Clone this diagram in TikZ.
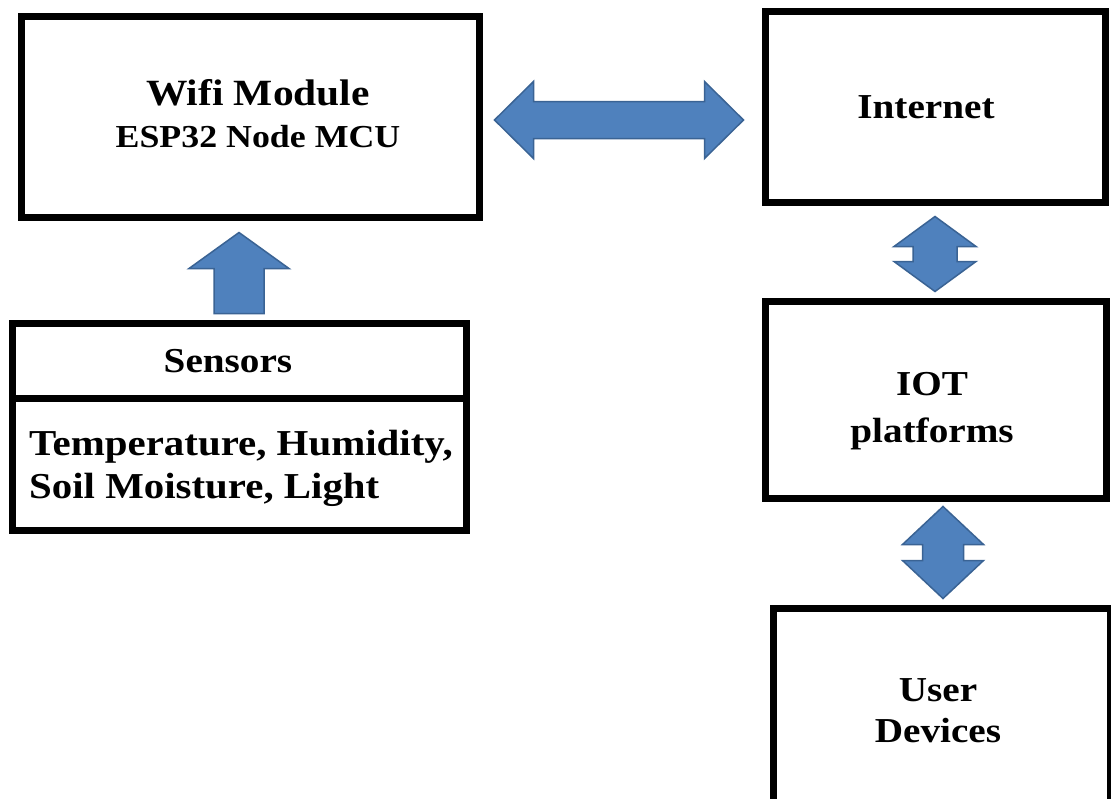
\documentclass[tikz,border=0pt]{standalone}
\usepackage{fontspec}
\setmainfont{Liberation Serif}[FakeStretch=1.12]
\usetikzlibrary{calc}
\definecolor{arrfill}{HTML}{4F81BD}
\definecolor{arrline}{HTML}{3A6394}
\tikzset{
  box/.style={draw=black, line width=7pt, rectangle, inner sep=0pt},
  txt/.style={inner sep=0pt, align=center, font=\bfseries\fontsize{35}{42}\selectfont},
  blk/.style={fill=arrfill, draw=arrline, line width=1.5pt, line join=miter},
  hdbl/.style n args={3}{to path={let \p1=(\tikztostart), \p2=(\tikztotarget) in
    (\x1,\y1) -- (\x1+#1,\y1+#2) -- (\x1+#1,\y1+#3) -- (\x2-#1,\y1+#3) -- (\x2-#1,\y1+#2)
    -- (\x2,\y1) -- (\x2-#1,\y1-#2) -- (\x2-#1,\y1-#3) -- (\x1+#1,\y1-#3) -- (\x1+#1,\y1-#2) -- cycle}},
  vdbl/.style n args={3}{to path={let \p1=(\tikztostart), \p2=(\tikztotarget) in
    (\x1,\y1) -- (\x1+#2,\y1-#1) -- (\x1+#3,\y1-#1) -- (\x1+#3,\y2+#1) -- (\x1+#2,\y2+#1)
    -- (\x1,\y2) -- (\x1-#2,\y2+#1) -- (\x1-#3,\y2+#1) -- (\x1-#3,\y1-#1) -- (\x1-#2,\y1-#1) -- cycle}},
  uparr/.style n args={3}{to path={let \p1=(\tikztostart), \p2=(\tikztotarget) in
    (\x1-#3,\y1) -- (\x1-#3,\y2-#1) -- (\x1-#2,\y2-#1) -- (\x1,\y2) -- (\x1+#2,\y2-#1)
    -- (\x1+#3,\y2-#1) -- (\x1+#3,\y1) -- cycle}}
}
\begin{document}
\begin{tikzpicture}[x=1pt,y=-1pt]
\useasboundingbox (0,0) rectangle (1111,798);
\fill[white] (0,0) rectangle (1111,798);

% boxes
\node[box, minimum width=458pt, minimum height=201pt] (wifi) at (250,116.5) {};
\node[box, minimum width=340pt, minimum height=191pt] (inet) at (935,106.5) {};
\node[box, minimum width=454pt, minimum height=75pt] (sens) at (239,360.5) {};
\node[box, minimum width=454pt, minimum height=132pt] (sbody) at (239,464) {};
\node[box, minimum width=341pt, minimum height=197pt] (iot) at (935.5,399.5) {};
\node[box, minimum width=337pt, minimum height=204pt] (user) at (941.5,710) {};

% texts
\node[txt] (wifit) at (258,114)
  {\fontsize{37}{36}\selectfont Wifi Module\\ \fontsize{32}{36}\selectfont ESP32 Node MCU};
\node[txt] (inett) at (926,107.5) {Internet};
\node[txt] (senst) at (228,361) {Sensors};
\node[txt, align=left, anchor=west, font=\bfseries\fontsize{36.5}{43}\selectfont] (sbodyt) at (29,468)
  {Temperature, Humidity,\\Soil Moisture, Light};
\node[txt, font=\bfseries\fontsize{35}{47}\selectfont] (iott) at (932,411) {IOT\\platforms};
\node[txt, font=\bfseries\fontsize{35}{41}\selectfont] (usert) at (938,711) {User\\Devices};

% block arrows
\coordinate (h1a) at ([xshift=12pt,yshift=-3.5pt]wifi.east);
\coordinate (h1b) at ([xshift=-18pt]inet.west);
\draw[blk, hdbl={39pt}{38.5pt}{18.5pt}] (h1a) to (h1b);

\coordinate (u1a) at ([yshift=6pt]sens.north);
\coordinate (u1b) at ([yshift=-12pt]wifi.south);
\draw[blk, uparr={36pt}{50pt}{25pt}] (u1a) to (u1b);

\coordinate (v1a) at ([yshift=-11pt]inet.south);
\coordinate (v1b) at ([yshift=6pt]iot.north);
\draw[blk, vdbl={30pt}{41pt}{22pt}] (v1a) to (v1b);

\coordinate (v2a) at ([xshift=7.5pt,yshift=-5pt]iot.south);
\coordinate (v2b) at ([yshift=6pt]user.north);
\draw[blk, vdbl={38pt}{40.5pt}{20.5pt}] (v2a) to (v2b);
\end{tikzpicture}
\end{document}
